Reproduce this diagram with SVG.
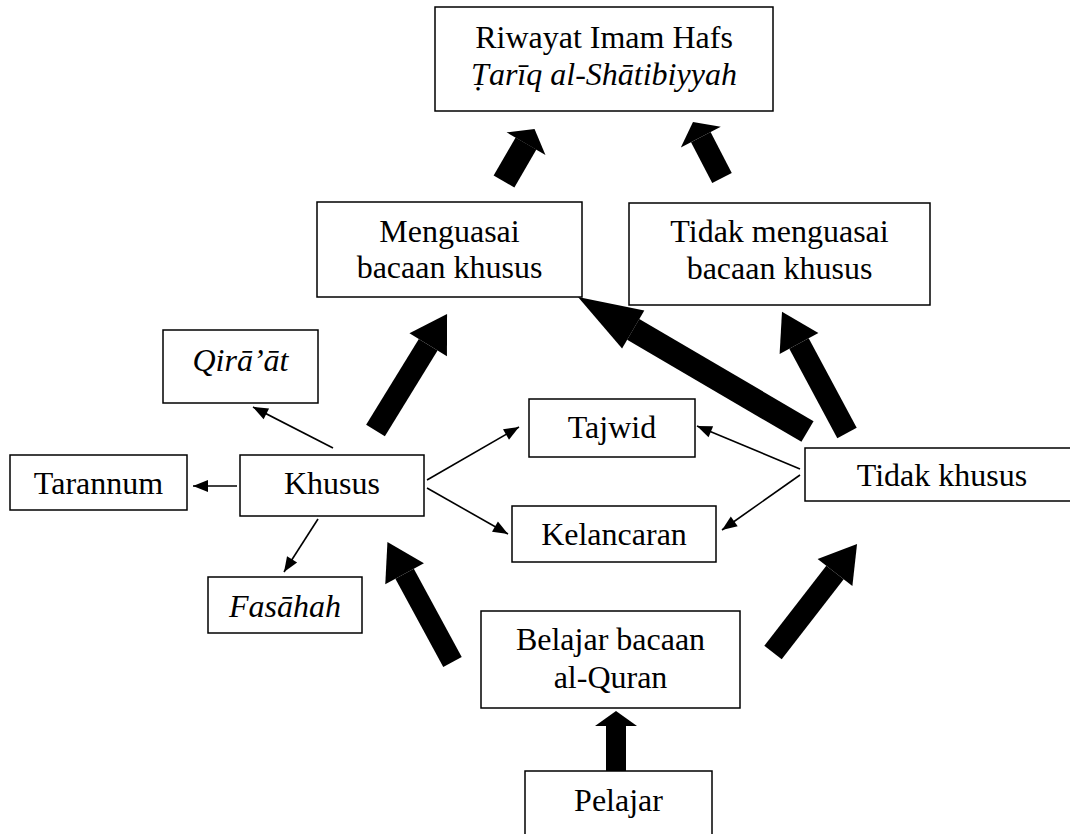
<svg xmlns="http://www.w3.org/2000/svg" width="1070" height="834" viewBox="0 0 1070 834">
<style>
.box{fill:#fff;stroke:#000;stroke-width:1.5}
.t{font-family:"Liberation Serif","Times New Roman",serif;font-size:32px;fill:#000;text-anchor:middle}
.i{font-style:italic}
.thick{stroke:#000;fill:none;stroke-linecap:butt}
.thin{stroke:#000;stroke-width:1.6;fill:none;marker-end:url(#hThin)}
</style>
<defs>
<marker id="hBig" markerUnits="userSpaceOnUse" markerWidth="36" markerHeight="44" refX="0" refY="22" orient="auto" overflow="visible"><path d="M0,0 L36,22 L0,44 Z" fill="#000"/></marker>
<marker id="hLong" markerUnits="userSpaceOnUse" markerWidth="64" markerHeight="44" refX="0" refY="22" orient="auto" overflow="visible"><path d="M0,0 L64,22 L0,44 Z" fill="#000"/></marker>
<marker id="hShort" markerUnits="userSpaceOnUse" markerWidth="17" markerHeight="45" refX="0" refY="22.5" orient="auto" overflow="visible"><path d="M0,0 L17,22.5 L0,45 Z" fill="#000"/></marker>
<marker id="hUp" markerUnits="userSpaceOnUse" markerWidth="15" markerHeight="42" refX="0" refY="21" orient="auto" overflow="visible"><path d="M0,0 L15,21 L0,42 Z" fill="#000"/></marker>
<marker id="hThin" markerUnits="userSpaceOnUse" markerWidth="15" markerHeight="12" refX="15" refY="6" orient="auto" overflow="visible"><path d="M0,0 L15,6 L0,12 Z" fill="#000"/></marker>
</defs>

<g id="connectors">
<line class="thick" x1="375.5" y1="430.5" x2="428.2" y2="344.7" stroke-width="22" marker-end="url(#hBig)"/>
<line class="thick" x1="452.5" y1="662" x2="404.6" y2="573.7" stroke-width="21" marker-end="url(#hBig)"/>
<line class="thick" x1="773" y1="652.5" x2="835" y2="572.5" stroke-width="22" marker-end="url(#hBig)"/>
<line class="thick" x1="807.5" y1="431.5" x2="633.2" y2="329.4" stroke-width="24" marker-end="url(#hLong)"/>
<line class="thick" x1="847" y1="433" x2="799" y2="343.5" stroke-width="22" marker-end="url(#hBig)"/>
<line class="thick" x1="504" y1="181.5" x2="526" y2="143.6" stroke-width="24" marker-end="url(#hShort)"/>
<line class="thick" x1="722" y1="178" x2="700.8" y2="137.1" stroke-width="22" marker-end="url(#hShort)"/>
<line class="thick" x1="616" y1="771" x2="616" y2="726" stroke-width="20" marker-end="url(#hUp)"/>
<line class="thin" x1="333" y1="448" x2="253" y2="407"/>
<line class="thin" x1="237" y1="486" x2="193" y2="486"/>
<line class="thin" x1="318" y1="519" x2="284" y2="572"/>
<line class="thin" x1="427" y1="480" x2="519" y2="427"/>
<line class="thin" x1="427" y1="488" x2="508" y2="534"/>
<line class="thin" x1="800" y1="469" x2="697" y2="426"/>
<line class="thin" x1="800" y1="475" x2="722" y2="530"/>
</g>

<g id="riwayat"><rect class="box" x="435" y="7" width="338" height="104"/>
<text class="t" x="604" y="48">Riwayat Imam Hafs</text>
<text class="t i" x="604" y="85">Ṭarīq al-Shātibiyyah</text></g>

<g id="menguasai"><rect class="box" x="317" y="202" width="265" height="95"/>
<text class="t" x="449.5" y="242">Menguasai</text>
<text class="t" x="449.5" y="278">bacaan khusus</text></g>

<g id="tidak-menguasai"><rect class="box" x="629" y="203" width="301" height="102"/>
<text class="t" x="779.5" y="242">Tidak menguasai</text>
<text class="t" x="779.5" y="279">bacaan khusus</text></g>

<g id="qiraat"><rect class="box" x="163" y="330" width="155" height="73"/>
<text class="t i" x="240.5" y="371">Qirā’āt</text></g>

<g id="tarannum"><rect class="box" x="10" y="455" width="177" height="55"/>
<text class="t" x="98.5" y="494">Tarannum</text></g>

<g id="khusus"><rect class="box" x="240" y="455" width="184" height="61"/>
<text class="t" x="332" y="494">Khusus</text></g>

<g id="fasahah"><rect class="box" x="208" y="577" width="154" height="56"/>
<text class="t i" x="285" y="617">Fasāhah</text></g>

<g id="tajwid"><rect class="box" x="529" y="399" width="166" height="58"/>
<text class="t" x="612" y="438">Tajwid</text></g>

<g id="kelancaran"><rect class="box" x="512" y="506" width="204" height="56"/>
<text class="t" x="614" y="545">Kelancaran</text></g>

<g id="tidak-khusus"><rect class="box" x="805" y="448" width="274" height="53"/>
<text class="t" x="942" y="486">Tidak khusus</text></g>

<g id="belajar"><rect class="box" x="481" y="611" width="259" height="97"/>
<text class="t" x="610.5" y="650">Belajar bacaan</text>
<text class="t" x="610.5" y="688">al-Quran</text></g>

<g id="pelajar"><rect class="box" x="525" y="771" width="187" height="80"/>
<text class="t" x="618.5" y="811">Pelajar</text></g>
</svg>
